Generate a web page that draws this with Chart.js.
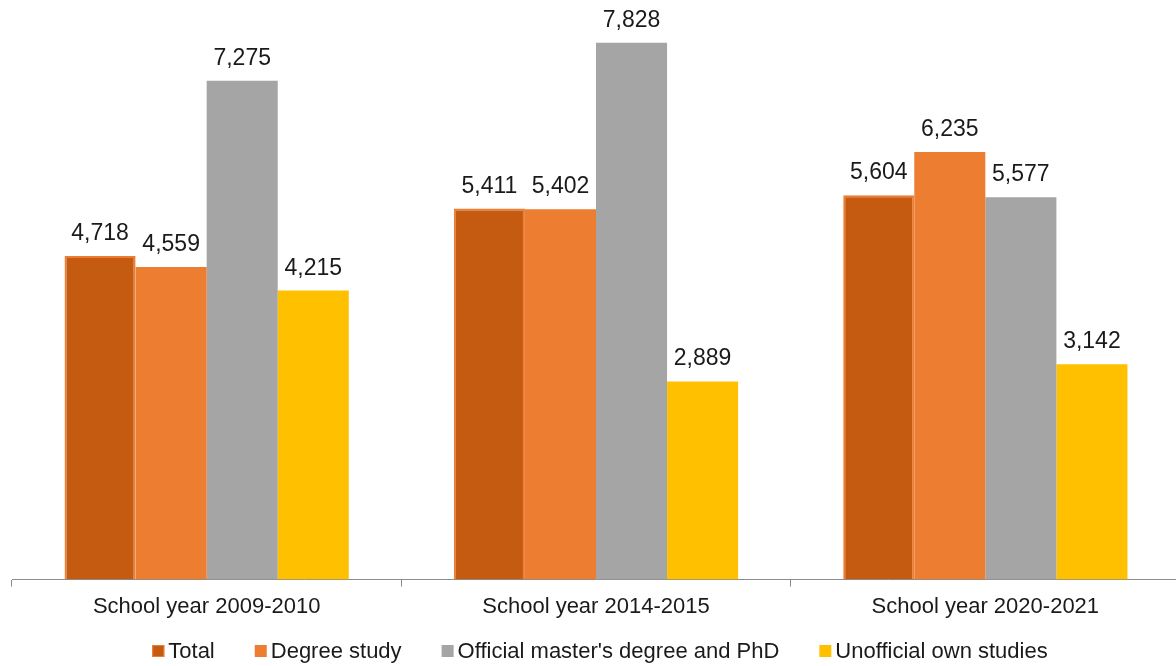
<!DOCTYPE html>
<html>
<head>
<meta charset="utf-8">
<script src="https://cdn.jsdelivr.net/npm/chart.js"></script>
<style>
    html, body { margin: 0; padding: 0; background: #fff; overflow: hidden; }
    #wrap { width: 1180px; height: 666px; }
</style>
</head>
<body>
<div id="wrap"><canvas id="costChart"></canvas></div>
<script>
const years = ['School year 2009-2010', 'School year 2014-2015', 'School year 2020-2021'];
const seriesNames = ['Total', 'Degree study', "Official master's degree and PhD", 'Unofficial own studies'];
const total = [4718, 5411, 5604];
const degree = [4559, 5402, 6235];
const masterPhd = [7275, 7828, 5577];
const unofficial = [4215, 2889, 3142];

const fillColors = ['#C55A11', '#ED7D31', '#A5A5A5', '#FFC000'];
const FONT = '"Liberation Sans", Arial, sans-serif';

// numbers above each bar
const valueLabels = {
    id: 'valueLabels',
    afterDatasetsDraw(chart) {
        const ctx = chart.ctx;
        ctx.save();
        ctx.font = '23px ' + FONT;
        ctx.fillStyle = '#1a1a1a';
        ctx.textAlign = 'center';
        ctx.textBaseline = 'alphabetic';
        chart.data.datasets.forEach((ds, i) => {
            chart.getDatasetMeta(i).data.forEach((bar, j) => {
                ctx.fillText(ds.data[j].toLocaleString('en-US'), bar.x, bar.y - 16);
            });
        });
        ctx.restore();
    }
};

// legend row under the axis, small squares close to the text
const bottomLegend = {
    id: 'bottomLegend',
    afterDraw(chart) {
        const ctx = chart.ctx;
        const box = 12, gap = 4, spacing = 40;
        ctx.save();
        ctx.font = '22px ' + FONT;
        ctx.textBaseline = 'middle';
        ctx.textAlign = 'left';
        const widths = seriesNames.map(n => box + gap + ctx.measureText(n).width);
        const full = widths.reduce((a, b) => a + b, 0) + spacing * (widths.length - 1);
        let x = 600 - full / 2;
        const y = 651;
        seriesNames.forEach((n, i) => {
            ctx.fillStyle = fillColors[i];
            ctx.fillRect(x, y - 6, box, box);
            if (i === 0) {
                ctx.strokeStyle = '#ED7D31';
                ctx.lineWidth = 1;
                ctx.strokeRect(x + 0.5, y - 5.5, box - 1, box - 1);
            }
            ctx.fillStyle = '#1a1a1a';
            ctx.fillText(n, x + box + gap, y + 1);
            x += widths[i] + spacing;
        });
        ctx.restore();
    }
};

new Chart(document.getElementById('costChart'), {
    type: 'bar',
    data: {
        labels: years,
        datasets: [
            { label: seriesNames[0], data: total, backgroundColor: fillColors[0], borderColor: '#ED7D31', borderWidth: 2 },
            { label: seriesNames[1], data: degree, backgroundColor: fillColors[1] },
            { label: seriesNames[2], data: masterPhd, backgroundColor: fillColors[2] },
            { label: seriesNames[3], data: unofficial, backgroundColor: fillColors[3] }
        ]
    },
    options: {
        responsive: true,
        maintainAspectRatio: false,
        animation: false,
        layout: { padding: { top: 31, left: 12, right: 0, bottom: 39 } },
        datasets: { bar: { categoryPercentage: 0.73, barPercentage: 1 } },
        plugins: {
            legend: { display: false },
            tooltip: { enabled: false }
        },
        scales: {
            x: {
                grid: {
                    offset: true,
                    drawOnChartArea: false,
                    drawTicks: true,
                    tickLength: 7,
                    color: '#8c8c8c'
                },
                border: { color: '#8c8c8c' },
                ticks: {
                    color: '#1a1a1a',
                    font: { family: FONT, size: 22 },
                    padding: 7
                }
            },
            y: {
                display: false,
                min: 0,
                max: 8000
            }
        }
    },
    plugins: [valueLabels, bottomLegend]
});
</script>
</body>
</html>
